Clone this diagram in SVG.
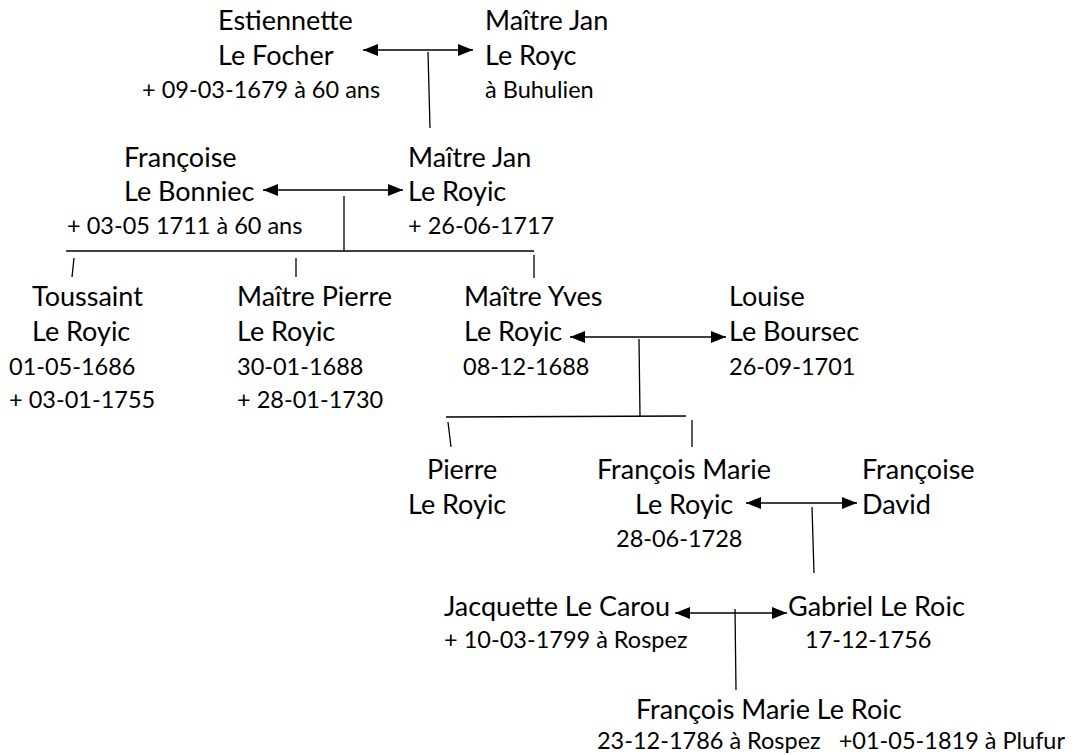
<svg xmlns="http://www.w3.org/2000/svg" width="1073" height="755" viewBox="0 0 1073 755">
<style>
text{font-family:Lato,"Liberation Sans",sans-serif;fill:#000}
.n{font-size:27px}
.d{font-size:23.5px}
.c{stroke:#000;stroke-width:1.3;fill:none}
</style>
<defs>
<marker id="ah" markerUnits="userSpaceOnUse" markerWidth="16" markerHeight="14" refX="15" refY="7" orient="auto-start-reverse" viewBox="0 0 16 14">
<path d="M0,1 L15,7 L0,13 z" fill="#000"/>
</marker>
</defs>
<rect width="1073" height="755" fill="#fff"/>
<g id="connectors">
<line class="c" x1="363" y1="50" x2="473" y2="50" marker-start="url(#ah)" marker-end="url(#ah)"/>
<line class="c" x1="428" y1="52" x2="430" y2="128"/>
<line class="c" x1="263" y1="190" x2="403" y2="190" marker-start="url(#ah)" marker-end="url(#ah)"/>
<line class="c" x1="344" y1="196" x2="344" y2="251"/>
<line class="c" x1="66" y1="251" x2="534" y2="251"/>
<line class="c" x1="74" y1="258" x2="72" y2="277"/>
<line class="c" x1="296" y1="258" x2="296" y2="277"/>
<line class="c" x1="534" y1="255" x2="534" y2="278"/>
<line class="c" x1="570" y1="337" x2="726" y2="337" marker-start="url(#ah)" marker-end="url(#ah)"/>
<line class="c" x1="639" y1="339" x2="640" y2="416"/>
<line class="c" x1="446" y1="417" x2="686" y2="416"/>
<line class="c" x1="448" y1="422" x2="451" y2="447"/>
<line class="c" x1="692" y1="420" x2="692" y2="447"/>
<line class="c" x1="746" y1="503" x2="857" y2="503" marker-start="url(#ah)" marker-end="url(#ah)"/>
<line class="c" x1="812" y1="507" x2="814" y2="573"/>
<line class="c" x1="675" y1="613" x2="787" y2="613" marker-start="url(#ah)" marker-end="url(#ah)"/>
<line class="c" x1="735" y1="609" x2="736" y2="690"/>
</g>
<g id="estiennette">
<text class="n" x="218" y="30">Estiennette</text>
<text class="n" x="218" y="65">Le Focher</text>
<text class="d" x="142" y="98">+ 09-03-1679 à 60 ans</text>
</g>
<g id="jan1">
<text class="n" x="485" y="30">Maître Jan</text>
<text class="n" x="485" y="65">Le Royc</text>
<text class="d" x="485" y="98">à Buhulien</text>
</g>
<g id="francoise1">
<text class="n" x="124" y="167">Françoise</text>
<text class="n" x="124" y="201">Le Bonniec</text>
<text class="d" x="67" y="234">+ 03-05 1711 à 60 ans</text>
</g>
<g id="jan2">
<text class="n" x="408" y="167">Maître Jan</text>
<text class="n" x="408" y="201">Le Royic</text>
<text class="d" x="408" y="234">+ 26-06-1717</text>
</g>
<g id="toussaint">
<text class="n" x="32" y="306">Toussaint</text>
<text class="n" x="32" y="341">Le Royic</text>
<text class="d" x="9" y="375">01-05-1686</text>
<text class="d" x="9" y="408">+ 03-01-1755</text>
</g>
<g id="pierre1">
<text class="n" x="237" y="306">Maître Pierre</text>
<text class="n" x="237" y="341">Le Royic</text>
<text class="d" x="237" y="375">30-01-1688</text>
<text class="d" x="237" y="408">+ 28-01-1730</text>
</g>
<g id="yves">
<text class="n" x="464" y="306">Maître Yves</text>
<text class="n" x="464" y="341">Le Royic</text>
<text class="d" x="463" y="375">08-12-1688</text>
</g>
<g id="louise">
<text class="n" x="729" y="306">Louise</text>
<text class="n" x="729" y="341">Le Boursec</text>
<text class="d" x="729" y="375">26-09-1701</text>
</g>
<g id="pierre2">
<text class="n" x="427" y="479">Pierre</text>
<text class="n" x="408" y="514">Le Royic</text>
</g>
<g id="francoismarie">
<text class="n" x="597" y="479">François Marie</text>
<text class="n" x="635" y="514">Le Royic</text>
<text class="d" x="616" y="547">28-06-1728</text>
</g>
<g id="francoise2">
<text class="n" x="862" y="479">Françoise</text>
<text class="n" x="862" y="514">David</text>
</g>
<g id="jacquette">
<text class="n" x="444" y="616">Jacquette Le Carou</text>
<text class="d" x="444" y="648">+ 10-03-1799 à Rospez</text>
</g>
<g id="gabriel">
<text class="n" x="788" y="616">Gabriel Le Roic</text>
<text class="d" x="805" y="648">17-12-1756</text>
</g>
<g id="francoismarie2">
<text class="n" x="636" y="719">François Marie Le Roic</text>
<text class="d" x="597" y="749" textLength="468" lengthAdjust="spacingAndGlyphs" xml:space="preserve">23-12-1786 à Rospez   +01-05-1819 à Plufur</text>
</g>
</svg>
